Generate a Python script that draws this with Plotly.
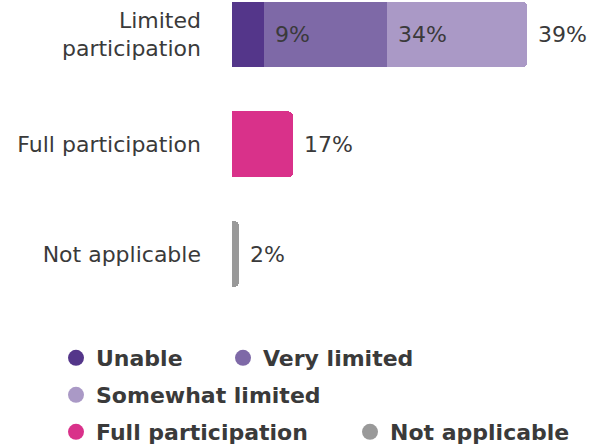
import plotly.graph_objects as go

# Participation categories (top to bottom) and their segment values in percent
categories = ["Limited<br>participation", "Full participation", "Not applicable"]

limited_series = ["Unable", "Very limited", "Somewhat limited"]
limited_values = [9, 34, 39]
full_value = 17
na_value = 2

colors = {
    "Unable": "#54368a",
    "Very limited": "#7e69a7",
    "Somewhat limited": "#aa99c6",
    "Full participation": "#d9318a",
    "Not applicable": "#999999",
}

FONT = "DejaVu Sans"
TEXT = "#3a3a3a"
SIZE = 22
W, H = 599, 446

fig = go.Figure()

# Stacked segments for "Limited participation"
for name, val in zip(limited_series, limited_values):
    fig.add_trace(go.Bar(
        y=[categories[0]], x=[val], orientation="h", name=name,
        marker=dict(color=colors[name], line=dict(width=0)),
        showlegend=False, hoverinfo="x+name",
    ))

fig.add_trace(go.Bar(
    y=[categories[1]], x=[full_value], orientation="h", name="Full participation",
    marker=dict(color=colors["Full participation"], line=dict(width=0)),
    showlegend=False,
))
fig.add_trace(go.Bar(
    y=[categories[2]], x=[na_value], orientation="h", name="Not applicable",
    marker=dict(color=colors["Not applicable"], line=dict(width=0)),
    showlegend=False,
))

# Value labels placed just past the end of each segment
annotations = []
cum = 0
for val in limited_values:
    cum += val
    annotations.append(dict(x=cum, y=categories[0], text=f"{val}%"))
annotations.append(dict(x=full_value, y=categories[1], text=f"{full_value}%"))
annotations.append(dict(x=na_value, y=categories[2], text=f"{na_value}%"))
for a in annotations:
    a.update(xref="x", yref="y", xanchor="left", yanchor="middle", xshift=9,
             showarrow=False, font=dict(family=FONT, size=SIZE, color=TEXT))

# One single-entry legend per key item, laid out in three rows:
# (name, left edge px, vertical centre px)
legend_items = [
    ("Unable", 56, 358),
    ("Very limited", 223, 358),
    ("Somewhat limited", 56, 395),
    ("Full participation", 56, 432),
    ("Not applicable", 350, 432),
]

legend_layout = {}
for i, (name, left, mid) in enumerate(legend_items):
    key = "legend" if i == 0 else f"legend{i + 1}"
    fig.add_trace(go.Scatter(
        x=[None], y=[None], mode="markers", name=name, legend=key,
        marker=dict(color=colors[name], size=16, symbol="circle"),
        showlegend=True,
    ))
    legend_layout[key] = dict(
        orientation="h", xref="container", yref="container",
        x=left / W, y=1 - mid / H, xanchor="left", yanchor="middle",
        font=dict(family=FONT, size=SIZE, color=TEXT, weight="bold"),
        bgcolor="rgba(0,0,0,0)", itemclick=False, itemdoubleclick=False,
    )

fig.update_layout(
    width=W, height=H,
    margin=dict(l=232, r=0, t=0, b=136),
    barmode="stack",
    bargap=0.4,
    barcornerradius=5,
    plot_bgcolor="white", paper_bgcolor="white",
    font=dict(family=FONT, color=TEXT),
    xaxis=dict(range=[0, 102], visible=False, fixedrange=True),
    yaxis=dict(
        categoryorder="array", categoryarray=categories,
        range=[2.51, -0.314], showgrid=False, zeroline=False, showline=False,
        ticks="", ticklabelstandoff=30,
        tickfont=dict(family=FONT, size=SIZE, color=TEXT), fixedrange=True,
    ),
    annotations=annotations,
    **legend_layout,
)

fig.write_html("out.html")
